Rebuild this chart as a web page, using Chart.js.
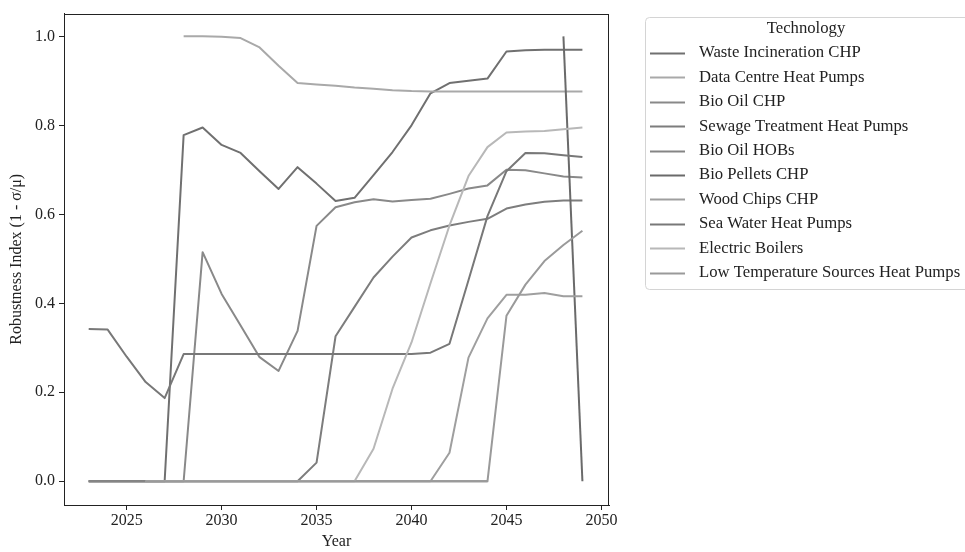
<!DOCTYPE html>
<html>
<head>
<meta charset="utf-8">
<script src="https://cdn.jsdelivr.net/npm/chart.js@4"></script>
<style>
  html, body { margin: 0; padding: 0; background: #fff; }
  #wrap { width: 965px; height: 552px; position: relative; }
</style>
</head>
<body>
<div id="wrap"><canvas id="robustChart"></canvas></div>
<script>
const years = [2023, 2024, 2025, 2026, 2027, 2028, 2029, 2030, 2031, 2032, 2033, 2034, 2035, 2036,
  2037, 2038, 2039, 2040, 2041, 2042, 2043, 2044, 2045, 2046, 2047, 2048, 2049];
const xTicks = [2025, 2030, 2035, 2040, 2045, 2050];
const yTicks = [0, 0.2, 0.4, 0.6, 0.8, 1.0];

const techNames = ['Waste Incineration CHP', 'Data Centre Heat Pumps', 'Bio Oil CHP',
  'Sewage Treatment Heat Pumps', 'Bio Oil HOBs', 'Bio Pellets CHP', 'Wood Chips CHP',
  'Sea Water Heat Pumps', 'Electric Boilers', 'Low Temperature Sources Heat Pumps'];

// one array per technology, 2023..2049 (null = no value that year)
const wasteIncineration = [0, 0, 0, 0, 0, 0.778, 0.795, 0.756, 0.738, 0.697, 0.657, 0.706, 0.669, 0.630,
  0.637, 0.688, 0.740, 0.800, 0.872, 0.895, 0.900, 0.905, 0.966, 0.969, 0.970, 0.970, 0.970];
const dataCentre = [null, null, null, null, null, 1.0, 1.0, 0.999, 0.996, 0.975, 0.934, 0.895, 0.892, 0.889,
  0.885, 0.882, 0.879, 0.877, 0.876, 0.876, 0.876, 0.876, 0.876, 0.876, 0.876, 0.876, 0.876];
const bioOilChp = [0, 0, 0, 0, 0, 0, 0.515, 0.421, 0.350, 0.279, 0.248, 0.338, 0.574, 0.616,
  0.627, 0.634, 0.629, 0.632, 0.635, 0.646, 0.658, 0.665, 0.700, 0.699, 0.692, 0.685, 0.683];
const sewageTreatment = [0, 0, 0, 0, 0, 0, 0, 0, 0, 0, 0, 0, 0.042, 0.326,
  0.392, 0.458, 0.505, 0.548, 0.564, 0.575, 0.583, 0.590, 0.613, 0.622, 0.628, 0.631, 0.631];
const bioOilHobs = [0, 0, 0, 0, 0, 0, 0, 0, 0, 0, 0, 0, 0, 0,
  0, 0, 0, 0, 0, 0, 0, 0, null, null, null, null, null];
const bioPellets = [null, null, null, null, null, null, null, null, null, null, null, null, null, null,
  null, null, null, null, null, null, null, null, null, null, null, 1.0, 0.0];
const woodChips = [null, null, null, 0, 0, 0, 0, 0, 0, 0, 0, 0, 0, 0,
  0, 0, 0, 0, 0, 0.064, 0.278, 0.366, 0.419, 0.419, 0.423, 0.416, 0.416];
const seaWater = [0.342, 0.341, 0.280, 0.223, 0.187, 0.286, 0.286, 0.286, 0.286, 0.286, 0.286, 0.286, 0.286, 0.286,
  0.286, 0.286, 0.286, 0.286, 0.289, 0.309, 0.452, 0.596, 0.697, 0.738, 0.737, 0.733, 0.729];
const electricBoilers = [null, null, null, 0, 0, 0, 0, 0, 0, 0, 0, 0, 0, 0,
  0, 0.073, 0.208, 0.312, 0.445, 0.575, 0.686, 0.751, 0.784, 0.786, 0.787, 0.791, 0.795];
const lowTempSources = [null, null, null, 0, 0, 0, 0, 0, 0, 0, 0, 0, 0, 0,
  0, 0, 0, 0, 0, 0, 0, 0, 0.372, 0.442, 0.495, 0.531, 0.563];

const techValues = [wasteIncineration, dataCentre, bioOilChp, sewageTreatment, bioOilHobs,
  bioPellets, woodChips, seaWater, electricBoilers, lowTempSources];
const techColors = ['#707070', '#a9a9a9', '#898989', '#7d7d7d', '#858585',
  '#6a6a6a', '#9f9f9f', '#787878', '#b8b8b8', '#9a9a9a'];

Chart.defaults.font.family = "'Liberation Serif', 'Times New Roman', serif";
Chart.defaults.font.size = 16;
Chart.defaults.color = '#222';

// box round the plot (matplotlib spines)
const frame = {
  id: 'frame',
  afterDraw(chart) {
    const { ctx, chartArea: a } = chart;
    ctx.save();
    ctx.strokeStyle = '#222';
    ctx.lineWidth = 1;
    ctx.strokeRect(Math.round(a.left) + 0.5, Math.round(a.top) + 0.5,
      Math.round(a.right - a.left) - 1, Math.round(a.bottom - a.top));
    ctx.restore();
  }
};

// legend outside the plot, with a title and a frame
const techLegend = {
  id: 'techLegend',
  afterDraw(chart) {
    const ctx = chart.ctx;
    ctx.save();
    ctx.fillStyle = 'rgba(255,255,255,0.8)';
    ctx.strokeStyle = '#d4d4d4';
    ctx.lineWidth = 1;
    ctx.beginPath();
    ctx.roundRect(645.5, 17.5, 325, 272, 4);
    ctx.fill();
    ctx.stroke();

    ctx.font = "16.7px 'Liberation Serif', 'Times New Roman', serif";
    ctx.textBaseline = 'middle';
    ctx.fillStyle = '#222';
    ctx.textAlign = 'center';
    ctx.fillText('Technology', 806, 29);

    ctx.textAlign = 'left';
    techNames.forEach((name, i) => {
      const y = 53 + i * 24.4;
      ctx.strokeStyle = techColors[i];
      ctx.lineWidth = 2;
      ctx.beginPath();
      ctx.moveTo(650, Math.round(y) + 0.5);
      ctx.lineTo(685, Math.round(y) + 0.5);
      ctx.stroke();
      ctx.fillStyle = '#222';
      ctx.fillText(name, 699, y);
    });
    ctx.restore();
  }
};

const datasets = techNames.map((name, i) => ({
  label: name,
  data: years.map((yr, j) => ({ x: yr, y: techValues[i][j] })),
  borderColor: techColors[i],
  backgroundColor: techColors[i],
  borderWidth: 2,
  pointRadius: 0,
  tension: 0,
  spanGaps: false,
  borderJoinStyle: 'round',
  // later series sit on top, like the original
  order: techNames.length - i
}));

new Chart(document.getElementById('robustChart'), {
  type: 'line',
  data: { datasets },
  options: {
    responsive: true,
    maintainAspectRatio: false,
    animation: false,
    layout: { padding: { top: 8, right: 356, left: 0, bottom: 0 } },
    plugins: {
      legend: { display: false },
      tooltip: { enabled: false }
    },
    scales: {
      x: {
        type: 'linear',
        min: 2021.7,
        max: 2050.4,
        afterBuildTicks: s => { s.ticks = xTicks.map(v => ({ value: v })); },
        afterFit: s => { s.height = 47; },
        grid: { drawOnChartArea: false, drawTicks: true, tickLength: 5, color: '#222' },
        border: { display: true, color: '#222', width: 1 },
        ticks: { padding: 1, maxRotation: 0, autoSkip: false, callback: v => String(v) },
        title: { display: true, text: 'Year', padding: { top: 0, bottom: 1 } }
      },
      y: {
        min: -0.0533,
        max: 1.0511,
        afterBuildTicks: s => { s.ticks = yTicks.map(v => ({ value: v })); },
        afterFit: s => { s.width = 64; },
        grid: { drawOnChartArea: false, drawTicks: true, tickLength: 5, color: '#222' },
        border: { display: true, color: '#222', width: 1 },
        ticks: { padding: 4, callback: v => v.toFixed(1) },
        title: { display: true, text: 'Robustness Index (1 - σ/μ)', padding: { top: 7, bottom: 0 } }
      }
    }
  },
  plugins: [frame, techLegend]
});
</script>
</body>
</html>
